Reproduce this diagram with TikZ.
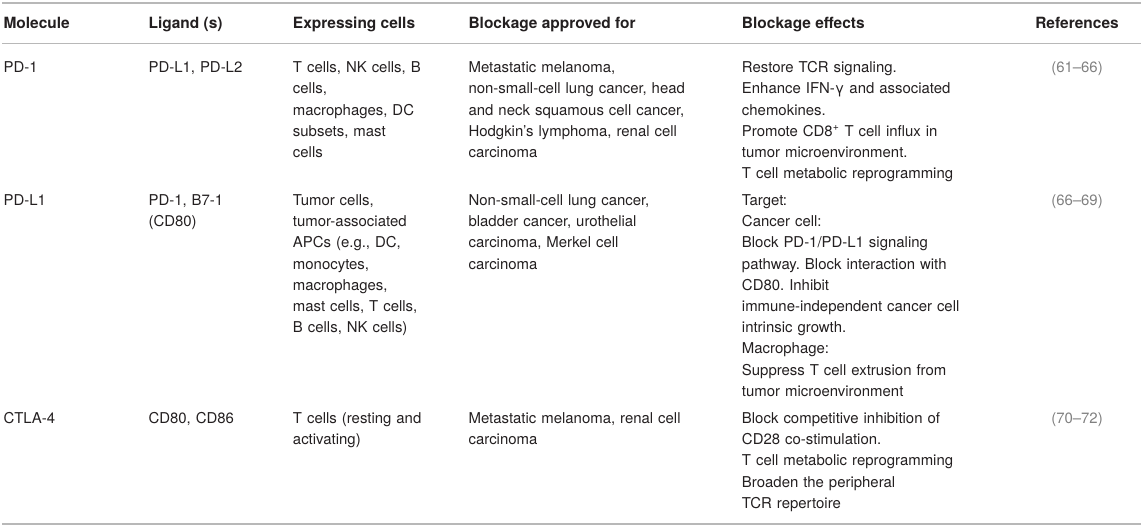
\documentclass[tikz,border=0pt]{standalone}
\usepackage{fontspec}
\setmainfont{TeX Gyre Heros}
\definecolor{txt}{HTML}{231F20}
\definecolor{rulec}{HTML}{B8B8B8}
\definecolor{refc}{HTML}{808080}
\frenchspacing
\begin{document}
\begin{tikzpicture}[x=0.75pt,y=-0.75pt,
  cell/.style={anchor=base west, inner sep=0pt, text width=#1, align=left,
    font=\fontsize{11.2}{15.9}\selectfont, text=txt},
  head/.style={anchor=base west, inner sep=0pt,
    font=\fontsize{11.6}{15.9}\selectfont\bfseries, text=txt},
  refcell/.style={anchor=base, inner sep=0pt,
    font=\fontsize{11.2}{15.9}\selectfont, text=refc},
  hrule/.style={draw=rulec, line width=#1}]
\useasboundingbox (0,0) rectangle (1143,527);
% rules
\coordinate (tl) at (2,3);   \coordinate (tr) at (1141,3);
\coordinate (ml) at (2,43.7); \coordinate (mr) at (1141,43.7);
\coordinate (bl) at (2,524); \coordinate (br) at (1141,524);
\draw[hrule=1.5pt] (tl) -- (tr);
\draw[hrule=1.1pt] (ml) -- (mr);
\draw[hrule=1.1pt] (bl) -- (br);
% header
\node[head] (h1) at (3.3,28.3) {Molecule};
\node[head] (h2) at (148.3,28.3) {Ligand (s)};
\node[head] (h3) at (292.7,28.3) {Expressing cells};
\node[head] (h4) at (468.3,28.3) {Blockage approved for};
\node[head] (h5) at (741.7,28.3) {Blockage effects};
\node[head, anchor=base] (h6) at (1077,28.3) {References};
% row 1
\node[cell=100pt] (a1) at (3.3,72.7) {PD-1};
\node[cell=100pt] (a2) at (148.3,72.7) {PD-L1, PD-L2};
\node[cell=125pt] (a3) at (292.7,72.7) {T cells, NK cells, B\\cells,\\macrophages, DC\\subsets, mast\\cells};
\node[cell=200pt] (a4) at (468.3,72.7) {Metastatic melanoma,\\non-small-cell lung cancer, head\\and neck squamous cell cancer,\\Hodgkin’s lymphoma, renal cell\\carcinoma};
\node[cell=210pt] (a5) at (741.7,72.7) {Restore TCR signaling.\\Enhance IFN-γ and associated\\chemokines.\\Promote CD8\textsuperscript{+} T cell influx in\\tumor microenvironment.\\T cell metabolic reprogramming};
\node[refcell] (a6) at (1077,72.7) {(61--66)};
% row 2
\node[cell=100pt] (b1) at (3.3,205.5) {PD-L1};
\node[cell=100pt] (b2) at (148.3,205.5) {PD-1, B7-1\\(CD80)};
\node[cell=125pt] (b3) at (292.7,205.5) {Tumor cells,\\tumor-associated\\APCs (e.g., DC,\\monocytes,\\macrophages,\\mast cells, T cells,\\B cells, NK cells)};
\node[cell=200pt] (b4) at (468.3,205.5) {Non-small-cell lung cancer,\\bladder cancer, urothelial\\carcinoma, Merkel cell\\carcinoma};
\node[cell=210pt] (b5) at (741.7,205.5) {Target:\\Cancer cell:\\Block PD-1/PD-L1 signaling\\pathway. Block interaction with\\CD80. Inhibit\\immune-independent cancer cell\\intrinsic growth.\\Macrophage:\\Suppress T cell extrusion from\\tumor microenvironment};
\node[refcell] (b6) at (1077,205.5) {(66--69)};
% row 3
\node[cell=100pt] (c1) at (3.3,423.5) {CTLA-4};
\node[cell=100pt] (c2) at (148.3,423.5) {CD80, CD86};
\node[cell=125pt] (c3) at (292.7,423.5) {T cells (resting and\\activating)};
\node[cell=200pt] (c4) at (468.3,423.5) {Metastatic melanoma, renal cell\\carcinoma};
\node[cell=210pt] (c5) at (741.7,423.5) {Block competitive inhibition of\\CD28 co-stimulation.\\T cell metabolic reprogramming\\Broaden the peripheral\\TCR repertoire};
\node[refcell] (c6) at (1077,423.5) {(70--72)};
\end{tikzpicture}
\end{document}
